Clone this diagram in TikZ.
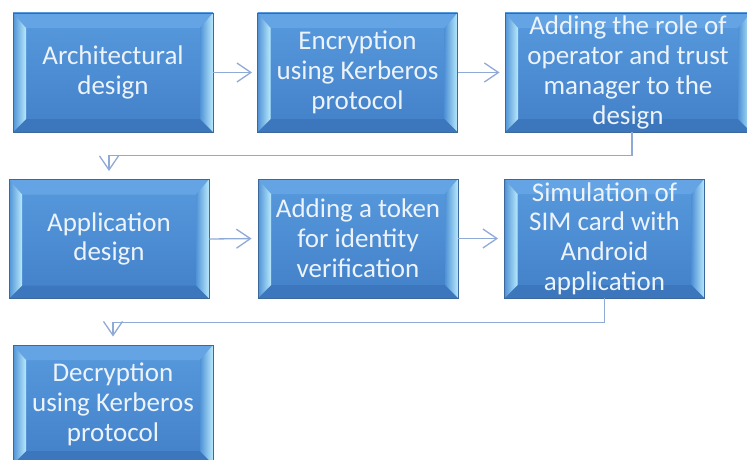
\documentclass[tikz,border=0pt]{standalone}
\usepackage{fontspec}
\setmainfont{Carlito}
\usetikzlibrary{arrows.meta,calc}
\definecolor{boxtop}{RGB}{88,154,222}
\definecolor{boxbot}{RGB}{66,128,200}
\definecolor{boxedge}{RGB}{60,104,156}
\definecolor{bevlight}{RGB}{184,234,252}
\definecolor{bevmid}{RGB}{80,146,214}
\definecolor{bevtop}{RGB}{100,164,228}
\definecolor{bevbot}{RGB}{60,118,188}
\definecolor{txt}{RGB}{236,243,251}
\definecolor{conn}{RGB}{143,170,215}
\tikzset{
  stepbox/.style={rectangle, minimum width=200pt, minimum height=119pt, inner sep=0pt,
    top color=boxtop, bottom color=boxbot, draw=boxedge, line width=0.9pt,
    text=txt, align=center, font=\fontsize{27}{29.8}\selectfont,
    path picture={
      \coordinate (sw) at (path picture bounding box.south west);
      \coordinate (ne) at (path picture bounding box.north east);
      \coordinate (nw) at (path picture bounding box.north west);
      \coordinate (se) at (path picture bounding box.south east);
      \coordinate (isw) at ($(sw)+(13pt,13pt)$);
      \coordinate (ine) at ($(ne)+(-13pt,-15pt)$);
      \coordinate (inw) at ($(nw)+(13pt,-15pt)$);
      \coordinate (ise) at ($(se)+(-13pt,13pt)$);
      \fill[bevtop] (nw) -- (ne) -- (ine) -- (inw) -- cycle;
      \fill[bevbot] (sw) -- (se) -- (ise) -- (isw) -- cycle;
      \shade[left color=bevmid, right color=bevlight] (sw) -- (nw) -- (inw) -- (isw) -- cycle;
      \shade[left color=bevmid, right color=bevlight] (se) -- (ne) -- (ine) -- (ise) -- cycle;
    }},
  link/.style={draw=conn, line width=1.3pt, -{Straight Barb[length=14pt,width=19pt]}}
}
\begin{document}
\begin{tikzpicture}[x=1pt,y=1pt]
\useasboundingbox (0,0) rectangle (747,459);
\node[stepbox] (A) at (113,386.5) {Architectural\\design};
\node[stepbox] (B) at (357.5,386.5) {Encryption\\using Kerberos\\protocol};
\node[stepbox, minimum width=246pt] (C) at (628,386.5) {Adding the role of\\operator and trust\\manager to the\\design};
\node[stepbox] (D) at (109,220) {Application\\design};
\node[stepbox] (E) at (358,220.5) {Adding a token\\for identity\\verification};
\node[stepbox] (F) at (604.5,220.5) {Simulation of\\SIM card with\\Android\\application};
\node[stepbox] (G) at (113,54.5) {Decryption\\using Kerberos\\protocol};
\draw[link, shorten >=5pt] (A.east) -- (B.west);
\draw[link, shorten >=5pt] (B.east) -- (C.west);
\draw[link, shorten >=8pt] ([xshift=4pt]C.south) -- ++(0,-23pt) -| (D.north);
\draw[link, shorten >=6pt] (D.east) -- (E.west);
\draw[link, shorten >=6pt] (E.east) -- (F.west);
\draw[link, shorten >=8pt] (F.south) -- ++(0,-24pt) -| (G.north);
\end{tikzpicture}
\end{document}
